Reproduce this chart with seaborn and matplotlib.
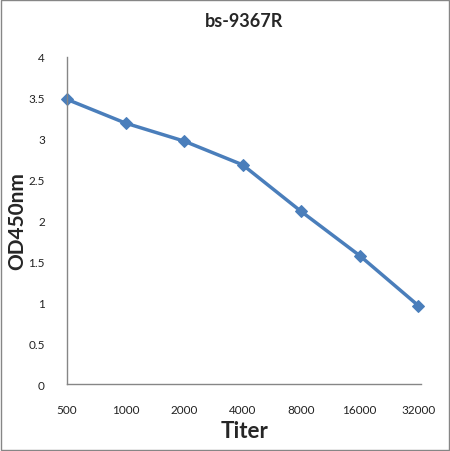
import matplotlib
matplotlib.use("Agg")
import matplotlib.pyplot as plt
import pandas as pd
import seaborn as sns

# values
titers = ["500", "1000", "2000", "4000", "8000", "16000", "32000"]
od450 = [3.48, 3.19, 2.97, 2.68, 2.11, 1.57, 0.96]
y_ticks = [0, 0.5, 1, 1.5, 2, 2.5, 3, 3.5, 4]
y_tick_labels = ["0", "0.5", "1", "1.5", "2", "2.5", "3", "3.5", "4"]

df = pd.DataFrame({"pos": range(len(titers)), "titer": titers, "od": od450})

sns.set_style("white")
plt.rcParams['font.family'] = ['Lato', 'DejaVu Sans']

fig = plt.figure(figsize=(4.5, 4.52), dpi=100)
ax = fig.add_axes([0.149, 0.148, 0.787, 0.724])

sns.lineplot(data=df, x="pos", y="od", ax=ax, color="#4a7ebb", linewidth=2.5,
             marker="D", markersize=6, markeredgecolor="#4a7ebb", clip_on=False)

ax.set_xlim(0, 6.05)
ax.set_ylim(0, 4)
ax.set_xticks(df["pos"])
ax.set_xticklabels(titers, fontsize=8.5, color="#222222")
ax.set_yticks(y_ticks)
ax.set_yticklabels(y_tick_labels, fontsize=8.5, color="#222222")
ax.tick_params(axis="x", length=0, pad=14)
ax.tick_params(axis="y", length=0, pad=16)

for side in ["top", "right"]:
    ax.spines[side].set_visible(False)
for side in ["left", "bottom"]:
    ax.spines[side].set_color("#868686")
    ax.spines[side].set_linewidth(1)

ax.set_xlabel("Titer", fontsize=16, fontweight="bold", labelpad=4)
ax.set_ylabel("OD450nm", fontsize=15, fontweight="bold")
ax.yaxis.set_label_coords(-0.113, 0.5)
ax.set_title("bs-9367R", fontsize=13, fontweight="bold", pad=22)

# grey frame around the whole chart
fig.patches.append(plt.Rectangle((0.003, 0.003), 0.994, 0.994, transform=fig.transFigure,
                                 fill=False, edgecolor="#868686", linewidth=1))

fig.savefig("out.png", dpi=100)
